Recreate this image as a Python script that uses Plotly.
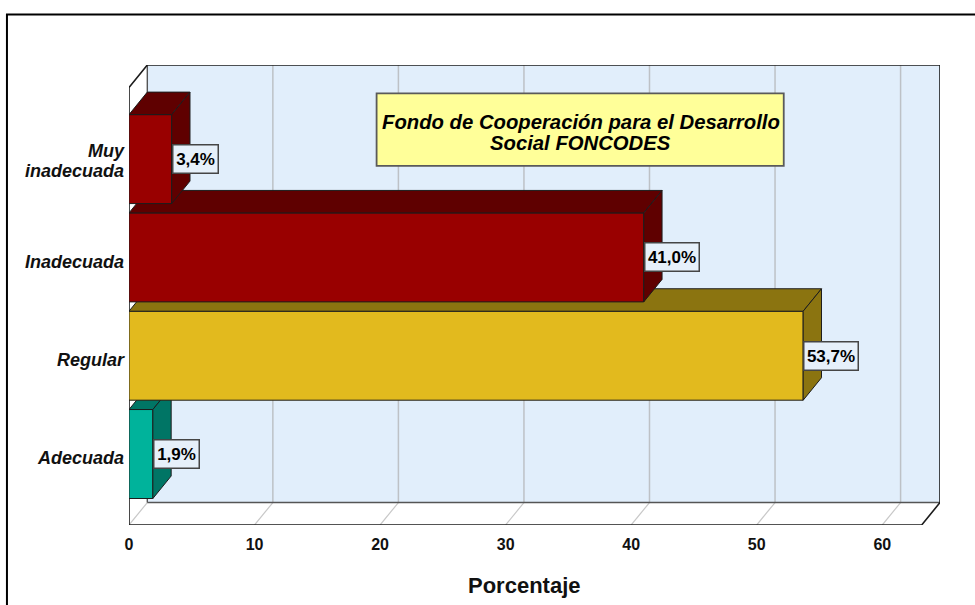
import plotly.graph_objects as go

# ---- data ----
categories = ["Adecuada", "Regular", "Inadecuada", "Muy inadecuada"]
tick_lines = ["Adecuada", "Regular", "Inadecuada", "Muy", "inadecuada"]
percentages = [1.9, 53.7, 41.0, 3.4]
value_labels = ["1,9%", "53,7%", "41,0%", "3,4%"]
front_colors = ["#00B39B", "#E2BA1E", "#990000", "#990000"]
side_colors = ["#007565", "#8B7410", "#5F0000", "#5F0000"]
x_ticks = [0, 10, 20, 30, 40, 50, 60]
note_lines = ["Fondo de Cooperación para el Desarrollo", "Social FONCODES"]
axis_title = "<b>Porcentaje</b>"

# ---- chart geometry ----
W, H = 975, 605
L, R, T, B = 129.0, 939.7, 64.5, 525.0
X_MAX = (R - L) / 12.55
Y_MIN, Y_MAX = -0.722, 3.957
Y_PX = (B - T) / (Y_MAX - Y_MIN)
DX, DY = 18.3 / 12.55, 22.5 / Y_PX
BAR_H = 0.905
FONT = "Liberation Sans"
EDGE = "#1c1c1c"
positions = list(range(len(categories)))
X_FRONT = X_MAX - DX
Y_FRONT_TOP = Y_MAX - DY
# the labels sit a little below the middle of each bar; the two-line one straddles it
tick_shift_px = [4, 4, 4, -8, 12]
tick_base = [0, 1, 2, 3, 3]
tick_pos = [b - s / Y_PX for b, s in zip(tick_base, tick_shift_px)]


def px(x):
    return (x - L) / (R - L)


def py(y):
    return (B - y) / (B - T)


def poly(xs, ys, fill, line=EDGE, width=1, xa="x", ya="y", name=""):
    return go.Scatter(
        x=list(xs) + [xs[0]], y=list(ys) + [ys[0]], mode="lines", fill="toself",
        fillcolor=fill, line=dict(color=line, width=width), xaxis=xa, yaxis=ya,
        hoverinfo="skip", showlegend=False, name=name, cliponaxis=False,
    )


def seg(xs, ys, color, width=1):
    return go.Scatter(x=xs, y=ys, mode="lines", line=dict(color=color, width=width),
                      hoverinfo="skip", showlegend=False, cliponaxis=False)


fig = go.Figure()

# back wall, left wall, floor
fig.add_trace(poly([DX, X_MAX, X_MAX, DX], [Y_MIN + DY, Y_MIN + DY, Y_MAX, Y_MAX], "#E1EEFB", line="rgba(0,0,0,0)"))
fig.add_trace(poly([0, DX, DX, 0], [Y_MIN, Y_MIN + DY, Y_MAX, Y_FRONT_TOP], "#FFFFFF", line="rgba(0,0,0,0)"))
fig.add_trace(poly([0, X_FRONT, X_MAX, DX], [Y_MIN, Y_MIN, Y_MIN + DY, Y_MIN + DY], "#FFFFFF", line="rgba(0,0,0,0)"))

# grid on wall and floor
for t in x_ticks:
    if t > 0:
        fig.add_trace(seg([t + DX, t + DX], [Y_MIN + DY, Y_MAX], "#BDC1C6", 1.5))
    fig.add_trace(seg([t, t + DX], [Y_MIN, Y_MIN + DY], "#C8C8C8", 1.2))

# frame edges
fig.add_trace(seg([DX, DX], [Y_MAX, Y_MIN + DY], "#555555", 1.4))
fig.add_trace(seg([DX, X_MAX], [Y_MIN + DY, Y_MIN + DY], "#555555", 1.4))
fig.add_trace(seg([0, DX, X_MAX, X_MAX, X_FRONT, 0, 0], [Y_FRONT_TOP, Y_MAX, Y_MAX, Y_MIN + DY, Y_MIN, Y_MIN, Y_FRONT_TOP], EDGE, 1.6))

# bars: each in its own overlaid axis pair so a higher bar hides the top of the lower one
for i, (pos, val) in enumerate(zip(positions, percentages)):
    n = i + 2
    xa, ya = f"x{n}", f"y{n}"
    y0, y1 = pos - BAR_H / 2, pos + BAR_H / 2
    fig.add_trace(poly([0, DX, val + DX, val], [y1, y1 + DY, y1 + DY, y1], side_colors[i], xa=xa, ya=ya))
    fig.add_trace(poly([val, val + DX, val + DX, val], [y0, y0 + DY, y1 + DY, y1], side_colors[i], xa=xa, ya=ya))
    fig.add_trace(go.Bar(x=[val], y=[pos], base=0, width=BAR_H, orientation="h",
                         marker=dict(color=front_colors[i], line=dict(color=EDGE, width=1)),
                         xaxis=xa, yaxis=ya, showlegend=False, name=categories[i], cliponaxis=False))

hidden = dict(visible=False, fixedrange=True)
extra_axes = {}
for n in range(2, len(categories) + 2):
    extra_axes[f"xaxis{n}"] = dict(hidden, overlaying="x", range=[0, X_MAX], anchor=f"y{n}")
    extra_axes[f"yaxis{n}"] = dict(hidden, overlaying="y", range=[Y_MIN, Y_MAX], anchor=f"x{n}")

annotations = []
for pos, val, lab in zip(positions, percentages, value_labels):
    annotations.append(dict(
        x=val, y=pos, xref="x", yref="y", text=f"<b>{lab}</b>", showarrow=False,
        xanchor="left", yanchor="middle", align="center",
        width=44 if len(lab) == 4 else 53, height=27, borderpad=0,
        bgcolor="#E6F0FA", bordercolor="#454545", borderwidth=1.5,
        font=dict(family=FONT, size=17, color="#000000"),
    ))
for line, ypx in zip(note_lines, [121.5, 143]):
    annotations.append(dict(
        x=px(580.5), y=py(ypx), xref="paper", yref="paper", text=f"<b><i>{line}</i></b>", showarrow=False,
        xanchor="center", yanchor="middle", font=dict(family=FONT, size=20.3, color="#000000"),
    ))
annotations.append(dict(
    x=px(524.5), y=py(586), xref="paper", yref="paper", text=axis_title, showarrow=False,
    xanchor="center", yanchor="middle", font=dict(family=FONT, size=22, color="#111111"),
))

shapes = [
    dict(type="rect", xref="paper", yref="paper", layer="above",
         x0=px(376.5), x1=px(783.5), y0=py(93), y1=py(165.5),
         fillcolor="#FFFF99", line=dict(color="#5A5A5A", width=1.8)),
    dict(type="path", xref="paper", yref="paper", layer="above",
         path=f"M {px(7)} {py(610)} L {px(7)} {py(14)} L {px(980)} {py(14)}",
         line=dict(color="#000000", width=2)),
]

fig.update_layout(
    width=W, height=H, autosize=False,
    margin=dict(l=L, r=W - R, t=T, b=H - B, pad=0, autoexpand=False),
    paper_bgcolor="#FFFFFF", plot_bgcolor="#FFFFFF", showlegend=False, barmode="overlay",
    xaxis=dict(range=[0, X_MAX], tickvals=x_ticks, ticktext=[str(t) for t in x_ticks],
               showgrid=False, zeroline=False, showline=False, ticks="", fixedrange=True,
               tickfont=dict(family=FONT, size=16, color="#111111", weight=700), ticklabelstandoff=8),
    yaxis=dict(range=[Y_MIN, Y_MAX], tickvals=tick_pos, ticktext=[f"<b><i>{c}</i></b>" for c in tick_lines],
               showgrid=False, zeroline=False, showline=False, ticks="", fixedrange=True,
               tickfont=dict(family=FONT, size=18, color="#111111"), ticklabelstandoff=4),
    annotations=annotations,
    shapes=shapes,
    **extra_axes,
)

fig.write_html("out.html", config={"displayModeBar": False},
               post_script="document.body.style.margin='0';document.body.style.overflow='hidden';")
